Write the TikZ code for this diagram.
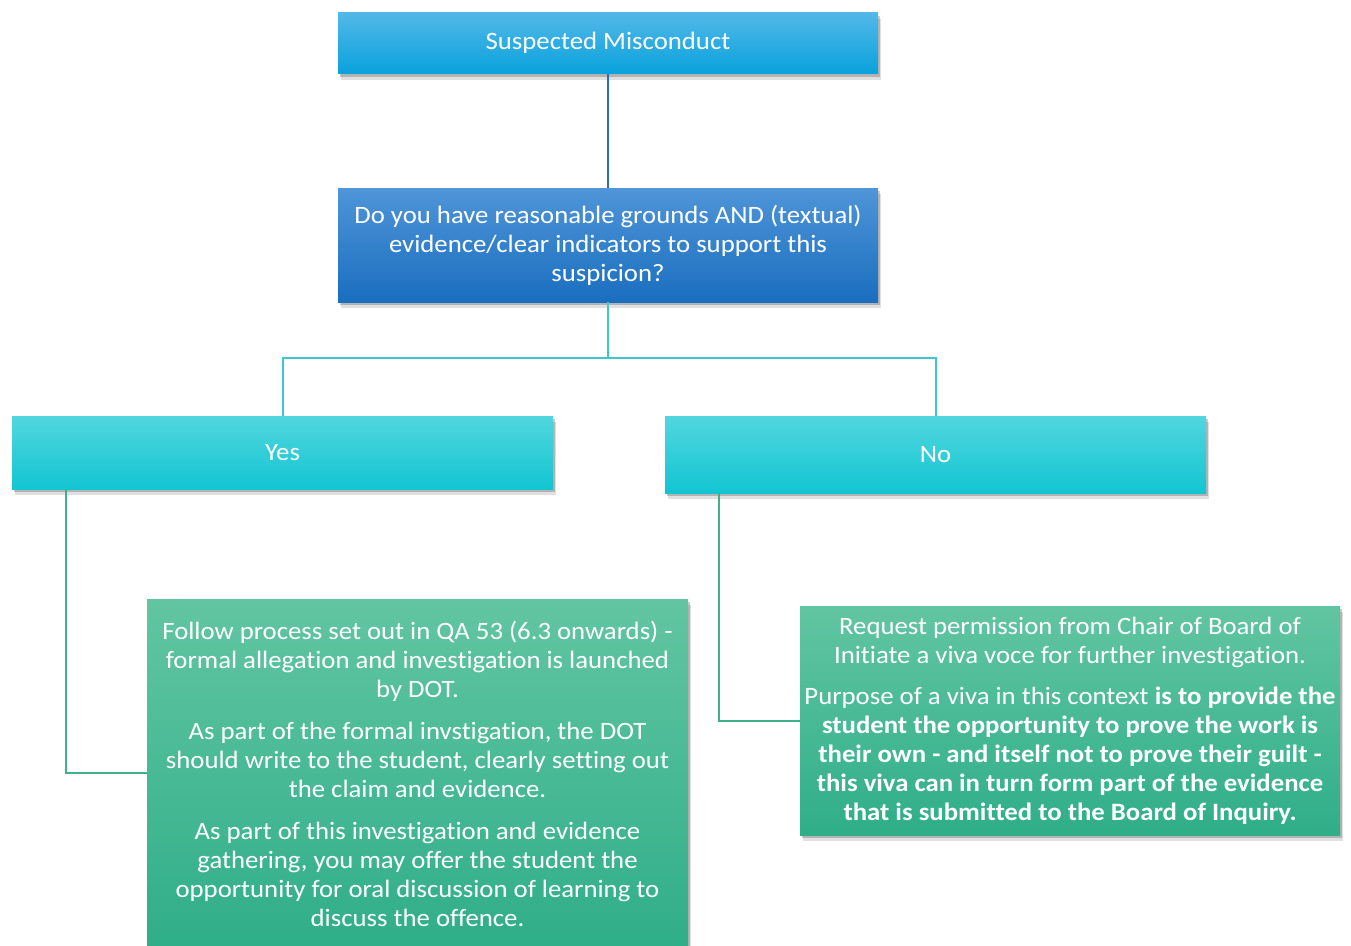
\documentclass[tikz,border=0pt]{standalone}
\usepackage{fontspec}
\setmainfont[FakeStretch=1.07,Ligatures=NoCommon]{Carlito}
\usetikzlibrary{shadows,calc}
\definecolor{topT}{HTML}{52B8E8}
\definecolor{topM}{HTML}{17B2EE}
\definecolor{topB}{HTML}{0AA2DC}
\definecolor{qT}{HTML}{4F95D8}
\definecolor{qM}{HTML}{2A80CD}
\definecolor{qB}{HTML}{1A6EBF}
\definecolor{cT}{HTML}{52D6DE}
\definecolor{cM}{HTML}{28D7E1}
\definecolor{cB}{HTML}{12C5D2}
\definecolor{gT}{HTML}{62C5A2}
\definecolor{gM}{HTML}{40BA94}
\definecolor{gB}{HTML}{2FAE88}
\definecolor{blueline}{HTML}{2C6FB0}
\definecolor{cyanline}{HTML}{3CC6D0}
\definecolor{greenline}{HTML}{40B08C}
\begin{document}
\begin{tikzpicture}[x=1pt,y=-1pt,
  boxbase/.style={draw=none, text=white, align=center, inner sep=0pt,
    font=\fontsize{25}{29}\selectfont,
    drop shadow={shadow xshift=3pt, shadow yshift=-6pt, fill=black, opacity=0.12},
    drop shadow={shadow xshift=2pt, shadow yshift=-3pt, fill=black, opacity=0.2}},
  topbox/.style={boxbase, top color=topT, middle color=topM, bottom color=topB},
  qbox/.style={boxbase, top color=qT, middle color=qM, bottom color=qB},
  cbox/.style={boxbase, top color=cT, middle color=cM, bottom color=cB},
  gbox/.style={boxbase, top color=gT, middle color=gM, bottom color=gB},
  conn/.style={line width=2pt}
]
\clip (0,0) rectangle (1351,945);
\fill[white] (0,0) rectangle (1351,945);

\node[topbox, minimum width=540pt, minimum height=61pt] (top) at (608,43) {Suspected Misconduct};
\node[qbox, minimum width=540pt, minimum height=114pt] (q) at (608,245)
  {Do you have reasonable grounds AND (textual)\\evidence/clear indicators to support this\\suspicion?};
\node[cbox, minimum width=541pt, minimum height=73pt] (yes) at (282.5,452.5) {Yes};
\node[cbox, minimum width=541pt, minimum height=77pt] (no) at (935.5,454.5) {No};
\node[gbox, minimum width=541pt, minimum height=350pt] (yd) at (417.5,774)
  {Follow process set out in QA 53 (6.3 onwards) -\\formal allegation and investigation is launched\\by DOT.\\[13pt]
   As part of the formal invstigation, the DOT\\should write to the student, clearly setting out\\the claim and evidence.\\[13pt]
   As part of this investigation and evidence\\gathering, you may offer the student the\\opportunity for oral discussion of learning to\\discuss the offence.};
\node[gbox, minimum width=540pt, minimum height=229pt] (nd) at (1070,720.5)
  {Request permission from Chair of Board of\\Initiate a viva voce for further investigation.\\[12pt]
   Purpose of a viva in this context \textbf{is to provide the}\\\textbf{student the opportunity to prove the work is}\\\textbf{their own - and itself not to prove their guilt -}\\\textbf{this viva can in turn form part of the evidence}\\\textbf{that is submitted to the Board of Inquiry.}};

\coordinate (split) at (608,358);
\draw[conn, blueline] (top.south) -- (q.north);
\draw[conn, cyanline] (q.south) -- (split) -| (yes.north);
\draw[conn, cyanline] (split) -| (no.north);
\draw[conn, greenline] ($(yes.south west)+(54,0)$) |- ($(yd.west)+(0,-1)$);
\draw[conn, greenline] ($(no.south west)+(54,0)$) |- (nd.west);
\end{tikzpicture}
\end{document}
